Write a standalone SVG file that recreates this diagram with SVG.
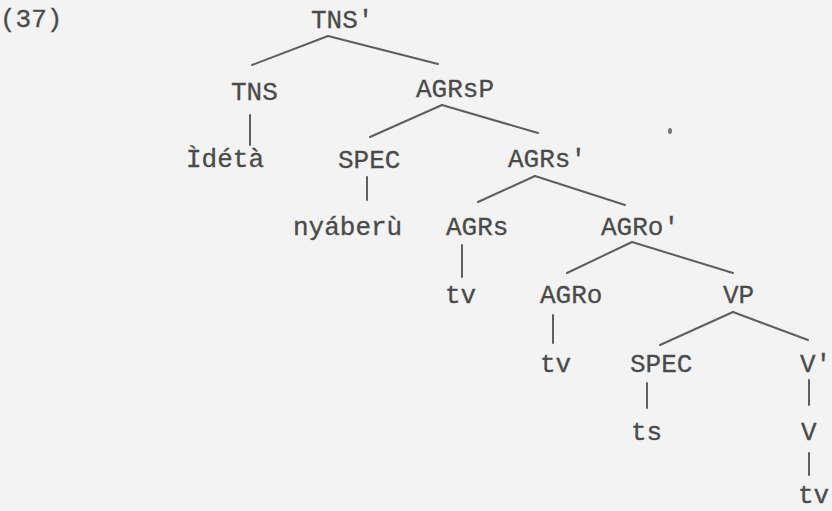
<svg xmlns="http://www.w3.org/2000/svg" width="832" height="511" viewBox="0 0 832 511">
  <style>
    .lbl { font-family: "Liberation Mono", "DejaVu Sans Mono", monospace; font-size: 26px; fill: #4a4a4a; stroke: #4a4a4a; stroke-width: 0.3; }
    .edge { stroke: #5e5e5e; stroke-width: 2; stroke-linecap: round; fill: none; }
  </style>
  <rect x="0" y="0" width="832" height="511" fill="#f3f3f3"/>
  <ellipse cx="670" cy="131" rx="2" ry="3" fill="#777"/>

  <g id="connectors" class="edge">
    <line x1="328" y1="36" x2="252" y2="65"/>
    <line x1="328" y1="36" x2="438" y2="64"/>
    <line x1="250" y1="115" x2="250" y2="145"/>
    <line x1="442" y1="105" x2="370" y2="137"/>
    <line x1="442" y1="105" x2="538" y2="133"/>
    <line x1="367" y1="177" x2="367" y2="200"/>
    <line x1="535" y1="176" x2="478" y2="202"/>
    <line x1="535" y1="176" x2="625" y2="205"/>
    <line x1="462" y1="245" x2="462" y2="277"/>
    <line x1="632" y1="242" x2="567" y2="273"/>
    <line x1="632" y1="242" x2="733" y2="273"/>
    <line x1="553" y1="315" x2="553" y2="343"/>
    <line x1="733" y1="312" x2="660" y2="345"/>
    <line x1="733" y1="312" x2="808" y2="340"/>
    <line x1="647" y1="383" x2="647" y2="408"/>
    <line x1="809" y1="380" x2="809" y2="405"/>
    <line x1="809" y1="453" x2="809" y2="475"/>
  </g>

  <g id="ex-num"><text class="lbl" x="0" y="27">(37)</text></g>
  <g id="n-TNSbar"><text class="lbl" x="311" y="28">TNS'</text></g>
  <g id="n-TNS"><text class="lbl" x="231" y="100">TNS</text></g>
  <g id="n-AGRsP"><text class="lbl" x="416" y="97">AGRsP</text></g>
  <g id="n-Ideta"><text class="lbl" x="186" y="167">Ìdétà</text></g>
  <g id="n-SPEC1"><text class="lbl" x="338" y="168">SPEC</text></g>
  <g id="n-AGRsbar"><text class="lbl" x="508" y="167">AGRs'</text></g>
  <g id="n-nyaberu"><text class="lbl" x="293" y="235">nyáberù</text></g>
  <g id="n-AGRs"><text class="lbl" x="446" y="235">AGRs</text></g>
  <g id="n-AGRobar"><text class="lbl" x="601" y="235">AGRo'</text></g>
  <g id="n-tv1"><text class="lbl" x="445" y="303">tv</text></g>
  <g id="n-AGRo"><text class="lbl" x="540" y="303">AGRo</text></g>
  <g id="n-VP"><text class="lbl" x="723" y="303">VP</text></g>
  <g id="n-tv2"><text class="lbl" x="540" y="372">tv</text></g>
  <g id="n-SPEC2"><text class="lbl" x="630" y="372">SPEC</text></g>
  <g id="n-Vbar"><text class="lbl" x="800" y="372">V'</text></g>
  <g id="n-ts"><text class="lbl" x="631" y="440">ts</text></g>
  <g id="n-V"><text class="lbl" x="801" y="440">V</text></g>
  <g id="n-tv3"><text class="lbl" x="798" y="503">tv</text></g>
</svg>
